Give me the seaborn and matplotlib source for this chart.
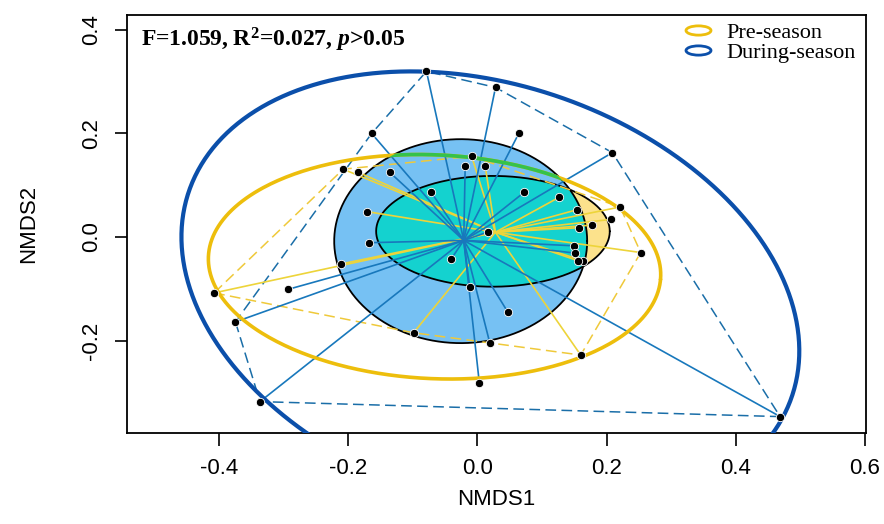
import numpy as np
import pandas as pd
import seaborn as sns
import matplotlib.pyplot as plt
from matplotlib.lines import Line2D
from matplotlib.patches import Polygon
from matplotlib.collections import LineCollection
from matplotlib.path import Path
from matplotlib.transforms import Affine2D

# NMDS site scores
pre_x = [-0.208, -0.185, -0.009, 0.012, 0.127, 0.155, 0.221, 0.207, 0.178,
         0.158, -0.171, 0.164, 0.156, -0.211, 0.253, -0.408, -0.099, 0.160]
pre_y = [0.131, 0.125, 0.156, 0.137, 0.077, 0.053, 0.058, 0.034, 0.023,
         0.018, 0.049, -0.046, -0.046, -0.052, -0.030, -0.108, -0.185, -0.228]

during_x = [-0.079, 0.028, 0.209, 0.064, -0.164, -0.136, -0.019, -0.072, 0.072,
            0.017, -0.168, 0.149, 0.151, -0.041, -0.293, -0.375, -0.012, 0.047,
            0.019, 0.003, 0.469, -0.337]
during_y = [0.320, 0.289, 0.163, 0.200, 0.200, 0.125, 0.137, 0.087, 0.086,
            0.010, -0.011, -0.017, -0.031, -0.043, -0.101, -0.164, -0.097, -0.145,
            -0.204, -0.283, -0.347, -0.318]

# ellipses: centre x, centre y, semi-axis a, semi-axis b, angle (deg)
pre_outer = [-0.0665, -0.0575, 0.351, 0.216, -4.0]
during_outer = [0.02, -0.11, 0.514, 0.387, -33.6]
pre_inner = [0.024, 0.011, 0.181, 0.107, 0.0]
during_inner = [-0.026, -0.008, 0.196, 0.197, 0.0]

groups = ["Pre-season", "During-season"]
stats_label = "F=1.059, R$^2$=0.027, $p$>0.05"

df = pd.concat([
    pd.DataFrame({"NMDS1": pre_x, "NMDS2": pre_y, "season": groups[0]}),
    pd.DataFrame({"NMDS1": during_x, "NMDS2": during_y, "season": groups[1]}),
], ignore_index=True)


def ellipse_xy(cx, cy, a, b, ang, n=400):
    t = np.linspace(0, 2 * np.pi, n)
    th = np.radians(ang)
    x = cx + a * np.cos(t) * np.cos(th) - b * np.sin(t) * np.sin(th)
    y = cy + a * np.cos(t) * np.sin(th) + b * np.sin(t) * np.cos(th)
    return x, y


def hull(x, y):
    pts = sorted(zip(x, y))

    def cross(o, a, b):
        return (a[0] - o[0]) * (b[1] - o[1]) - (a[1] - o[1]) * (b[0] - o[0])

    lower, upper = [], []
    for p in pts:
        while len(lower) >= 2 and cross(lower[-2], lower[-1], p) <= 0:
            lower.pop()
        lower.append(p)
    for p in reversed(pts):
        while len(upper) >= 2 and cross(upper[-2], upper[-1], p) <= 0:
            upper.pop()
        upper.append(p)
    h = lower[:-1] + upper[:-1]
    return np.array(h + h[:1])


sns.set_style("ticks")
plt.rcParams["font.family"] = ["Liberation Sans", "DejaVu Sans"]
plt.rcParams["axes.unicode_minus"] = False
plt.rcParams["text.color"] = "black"
plt.rcParams["axes.labelcolor"] = "black"
plt.rcParams["xtick.color"] = "black"
plt.rcParams["ytick.color"] = "black"
plt.rcParams["mathtext.fontset"] = "custom"
plt.rcParams["mathtext.rm"] = "Liberation Serif:bold"
plt.rcParams["mathtext.bf"] = "Liberation Serif:bold"
plt.rcParams["mathtext.it"] = "Liberation Serif:bold:italic"

fig, ax = plt.subplots(figsize=(8.84, 5.24), dpi=100)
fig.subplots_adjust(left=0.1437, right=0.9796, top=0.9714, bottom=0.1737)

c_yel, c_blue = "#EDBE0C", "#0B4FAA"
c_yel_sp, c_blue_sp = "#EDD43A", "#1878BC"

# filled ellipses
ex, ey = ellipse_xy(*pre_inner)
yel_fill = Polygon(np.column_stack([ex, ey]), closed=True, facecolor="#FCE28C",
                   edgecolor="none", zorder=1)
ax.add_patch(yel_fill)
bx, by = ellipse_xy(*during_inner)
blue_fill = Polygon(np.column_stack([bx, by]), closed=True, facecolor="#76C1F3",
                    edgecolor="none", zorder=1.2)
ax.add_patch(blue_fill)
overlap = Polygon(np.column_stack([ex, ey]), closed=True, facecolor="#14D2CF",
                  edgecolor="none", zorder=1.4)
ax.add_patch(overlap)
overlap.set_clip_path(blue_fill)
ax.plot(ex, ey, color="black", lw=1.3, zorder=1.6)
ax.plot(bx, by, color="black", lw=1.3, zorder=1.6)

# hulls and spiders
for xs, ys, csp, chull in [(pre_x, pre_y, c_yel_sp, "#EFC93A"),
                           (during_x, during_y, c_blue_sp, "#1A6EA8")]:
    h = hull(xs, ys)
    ax.plot(h[:, 0], h[:, 1], color=chull, lw=1.1, ls=(0, (7, 3.5)), zorder=2)
    cx, cy = np.mean(xs), np.mean(ys)
    segs = [[(cx, cy), (x, y)] for x, y in zip(xs, ys)]
    ax.add_collection(LineCollection(segs, colors=csp, linewidths=1.2, zorder=2.2))

# outer ellipses
ox, oy = ellipse_xy(*pre_outer)
ax.plot(ox, oy, color=c_yel, lw=2.6, zorder=3)
green = ax.plot(ox, oy, color="#35C24A", lw=2.6, zorder=3.1)[0]
green.set_clip_path(blue_fill)
dx, dy = ellipse_xy(*during_outer)
ax.plot(dx, dy, color=c_blue, lw=3.0, zorder=3)

sns.scatterplot(data=df, x="NMDS1", y="NMDS2", color="black", s=36,
                edgecolor="white", linewidth=0.6, zorder=5, legend=False, ax=ax)

ax.set_xlim(-0.543, 0.602)
ax.set_ylim(-0.3786, 0.4289)
ax.set_xticks([-0.4, -0.2, 0.0, 0.2, 0.4, 0.6])
ax.set_yticks([-0.2, 0.0, 0.2, 0.4])
ax.set_xticklabels(["-0.4", "-0.2", "0.0", "0.2", "0.4", "0.6"])
ax.set_yticklabels(["-0.2", "0.0", "0.2", "0.4"], rotation=90, va="center")
ax.tick_params(axis="both", length=9, width=1.2, labelsize=16, color="black",
               labelcolor="black")
ax.tick_params(axis="x", pad=9)
ax.tick_params(axis="y", pad=9)
for sp in ax.spines.values():
    sp.set_visible(True)
    sp.set_color("black")
    sp.set_linewidth(1.3)
ax.set_xlabel("NMDS1", fontsize=16, labelpad=7, color="black")
ax.set_ylabel("NMDS2", fontsize=16, labelpad=30, color="black")

ax.text(0.019, 0.974, stats_label, transform=ax.transAxes, va="top", ha="left",
        fontsize=17, fontweight="bold", family="Liberation Serif", zorder=6)

ell_marker = Path.unit_circle().transformed(Affine2D().scale(2.7, 1))
handles = [Line2D([], [], ls="none", marker=ell_marker, markersize=18,
                  markerfacecolor="none", markeredgecolor=c, markeredgewidth=2)
           for c in [c_yel, c_blue]]
ax.legend(handles, groups, loc="upper left", bbox_to_anchor=(0.731, 1.015),
          frameon=False, handlelength=1.6, handletextpad=0.45, labelspacing=0.0,
          borderaxespad=0.2, prop={"family": "Liberation Serif", "size": 16})

fig.savefig("out.png", dpi=100)
